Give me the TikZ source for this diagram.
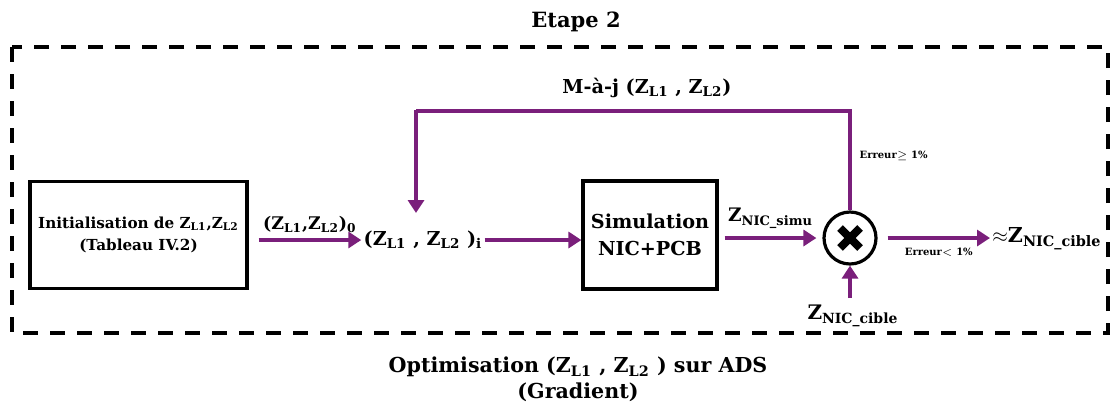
\documentclass[tikz,border=0pt]{standalone}
\usepackage{fontspec}
\setmainfont{DejaVu Serif}
\usetikzlibrary{arrows.meta, positioning}
\definecolor{violetfleche}{HTML}{7A1F7B}
\newcommand{\Zsub}[1]{Z\textsubscript{#1}}
\newcommand{\taille}[2]{\fontsize{#1}{#2}\selectfont\bfseries}
\tikzset{
  boite/.style={draw=black, line width=1.6pt, align=center, text=black, inner sep=2pt},
  fleche/.style={-{Triangle[length=6.5pt, width=8pt]}, line width=1.7pt, violetfleche},
  ligne/.style={line width=1.7pt, violetfleche},
  etiquette/.style={text=black, inner sep=1pt},
  petite/.style={text=black, font=\taille{5}{6}, inner sep=1pt},
  croix/.style={line width=4pt, black},
}
\begin{document}
\begin{tikzpicture}[x=0.5pt, y=-0.5pt]
  \useasboundingbox (0,0) rectangle (1111,409);
  % cadre de l'etape
  \node[etiquette, font=\taille{10.5}{12}] (titre) at (576,22) {Etape 2};
  \draw[line width=2pt, dash pattern=on 7.5pt off 6pt] (12,47) rectangle (1108,333);

  % blocs
  \node[boite, minimum width=108.5pt, minimum height=53.5pt, font=\taille{7.6}{11}] (init) at (138.5,235)
    {Initialisation de \Zsub{L1},\Zsub{L2}\\(Tableau IV.2)};
  \node[etiquette, font=\taille{9.6}{12}] (zi) at (423,240) {(\Zsub{L1} , \Zsub{L2} )\textsubscript{i}};
  \node[boite, minimum width=67pt, minimum height=54pt, font=\taille{9.6}{13.5}] (simu) at (650,235) {Simulation\\NIC+PCB};
  \node[circle, draw=black, line width=1.6pt, minimum size=26pt, inner sep=0pt] (comp) at (850,238) {};
  \draw[croix] ([shift={(-10,-10)}]comp.center) -- ([shift={(10,10)}]comp.center);
  \draw[croix] ([shift={(-10,10)}]comp.center) -- ([shift={(10,-10)}]comp.center);
  \node[etiquette, font=\taille{10.3}{12}, anchor=west] (sortie) at (990,239) {$\approx$\Zsub{NIC\_cible}};
  \node[etiquette, font=\taille{10}{12}] (cible) at (853,316) {\Zsub{NIC\_cible}};
  \coordinate (ref) at (850,298);

  % fleches
  \draw[fleche] ([xshift=5pt]init.east |- zi.west) -- node[etiquette, above=2pt, font=\taille{8.7}{10}] {(\Zsub{L1},\Zsub{L2})\textsubscript{0}} (zi.west);
  \draw[fleche] (zi.east) -- (simu.west |- zi.east);
  \draw[fleche] ([xshift=3pt]simu.east |- comp.west) -- node[etiquette, above=3pt, font=\taille{9.3}{10}] {\Zsub{NIC\_simu}} ([xshift=-3pt]comp.west);
  \draw[fleche] ([xshift=5pt]comp.east) -- node[petite, below=3pt] {Erreur$<$ 1\%} (sortie.west |- comp.east);
  \draw[fleche] (ref) -- (comp.south);
  \draw[ligne] (comp.north) -- node[petite, right=3pt, pos=0.55] {Erreur$\geq$ 1\%} (850,111) -- (416,111);
  \draw[fleche] (416,110) -- (416,213);
  \node[etiquette, font=\taille{9.6}{12}] (maj) at (647,88) {M-à-j (\Zsub{L1} , \Zsub{L2})};

  % legende
  \node[etiquette, align=center, font=\taille{10.3}{13}] (legende) at (578,379)
    {Optimisation (\Zsub{L1} , \Zsub{L2} ) sur ADS\\(Gradient)};
\end{tikzpicture}
\end{document}
